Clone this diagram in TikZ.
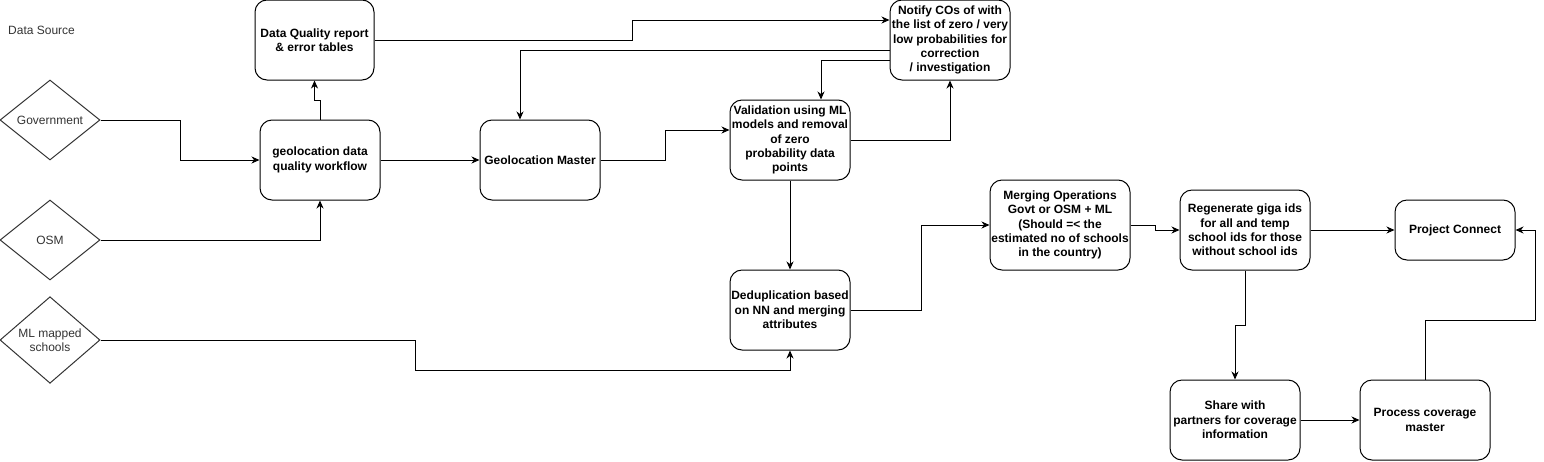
\documentclass[tikz,border=0pt]{standalone}
\usepackage{fontspec}
\setmainfont{Liberation Sans}
\usetikzlibrary{arrows.meta,shapes.geometric}
\definecolor{srcgray}{HTML}{333333}
\tikzset{
  box/.style={draw=black, line width=1pt, rounded corners=12pt, align=center, inner sep=0pt,
    font=\fontsize{12pt}{14.4pt}\selectfont\bfseries, text=black},
  src/.style={draw=srcgray, line width=1pt, shape=diamond, minimum width=100pt, minimum height=80pt,
    inner sep=0pt, align=center, font=\fontsize{12pt}{14.4pt}\selectfont, text=srcgray},
  conn/.style={draw=black, line width=1pt, -{Stealth[length=8pt,width=7pt,inset=2.5pt]}}
}
\begin{document}
\begin{tikzpicture}[x=1pt,y=-1pt]
\useasboundingbox (0,0) rectangle (1544,461);
\node[anchor=west, font=\fontsize{12pt}{14.4pt}\selectfont, text=srcgray, inner sep=0pt] (title) at (8,30) {Data Source};
\node[src] (gov) at (50,120) {Government};
\node[src] (osm) at (50,240) {OSM};
\node[src] (ml) at (50,340) {ML mapped\\schools};
\node[box, minimum width=119pt, minimum height=80pt] (dq) at (314.5,40) {Data Quality report\\\& error tables};
\node[box, minimum width=120pt, minimum height=80pt] (wf) at (320,160) {geolocation data\\quality workflow};
\node[box, minimum width=120pt, minimum height=80pt] (gm) at (540,160) {Geolocation Master};
\node[box, minimum width=120pt, minimum height=80pt] (val) at (790,140) {Validation using ML\\models and removal\\of zero\\probability data\\points};
\node[box, minimum width=120pt, minimum height=80pt] (notify) at (950,40) {Notify COs of with\\the list of zero / very\\low probabilities for\\correction\\/ investigation};
\node[box, minimum width=120pt, minimum height=80pt] (dedup) at (790,310) {Deduplication based\\on NN and merging\\attributes};
\node[box, minimum width=140pt, minimum height=90pt] (merge) at (1060,225) {Merging Operations\\Govt or OSM + ML\\(Should =< the\\estimated no of schools\\in the country)};
\node[box, minimum width=130pt, minimum height=80pt] (regen) at (1245,230) {Regenerate giga ids\\for all and temp\\school ids for those\\without school ids};
\node[box, minimum width=120pt, minimum height=60pt] (pc) at (1455,230) {Project Connect};
\node[box, minimum width=130pt, minimum height=80pt] (share) at (1235,420) {Share with\\partners for coverage\\information};
\node[box, minimum width=130pt, minimum height=80pt] (proc) at (1425,420) {Process coverage\\master};

\draw[conn] (gov.east) -- (180,120) |- (wf.west);
\draw[conn] (osm.east) -| (wf.south);
\draw[conn] (wf.north) -- (320,100) -| (dq.south);
\draw[conn] (wf.east) -- (gm.west);
\draw[conn] (dq.east) -- (632,40) |- ([yshift=20pt]notify.west);
\draw[conn] ([yshift=-10pt]notify.west) -| ([xshift=-20pt]gm.north);
\draw[conn] ([yshift=-20pt]notify.west) -| ([xshift=31pt]val.north);
\draw[conn] (val.east) -| (notify.south);
\draw[conn] (gm.east) -- (665,160) |- ([yshift=10pt]val.west);
\draw[conn] (val.south) -- (dedup.north);
\draw[conn] (dedup.east) -- (921,310) |- (merge.west);
\draw[conn] (ml.east) -- (415,340) -- (415,370) -| (dedup.south);
\draw[conn] (merge.east) -- (1155,225) |- (regen.west);
\draw[conn] (regen.east) -- (pc.west);
\draw[conn] (regen.south) -- (1245,325) -| (share.north);
\draw[conn] (share.east) -- (proc.west);
\draw[conn] (proc.north) |- (1535,320) |- (pc.east);
\end{tikzpicture}
\end{document}
